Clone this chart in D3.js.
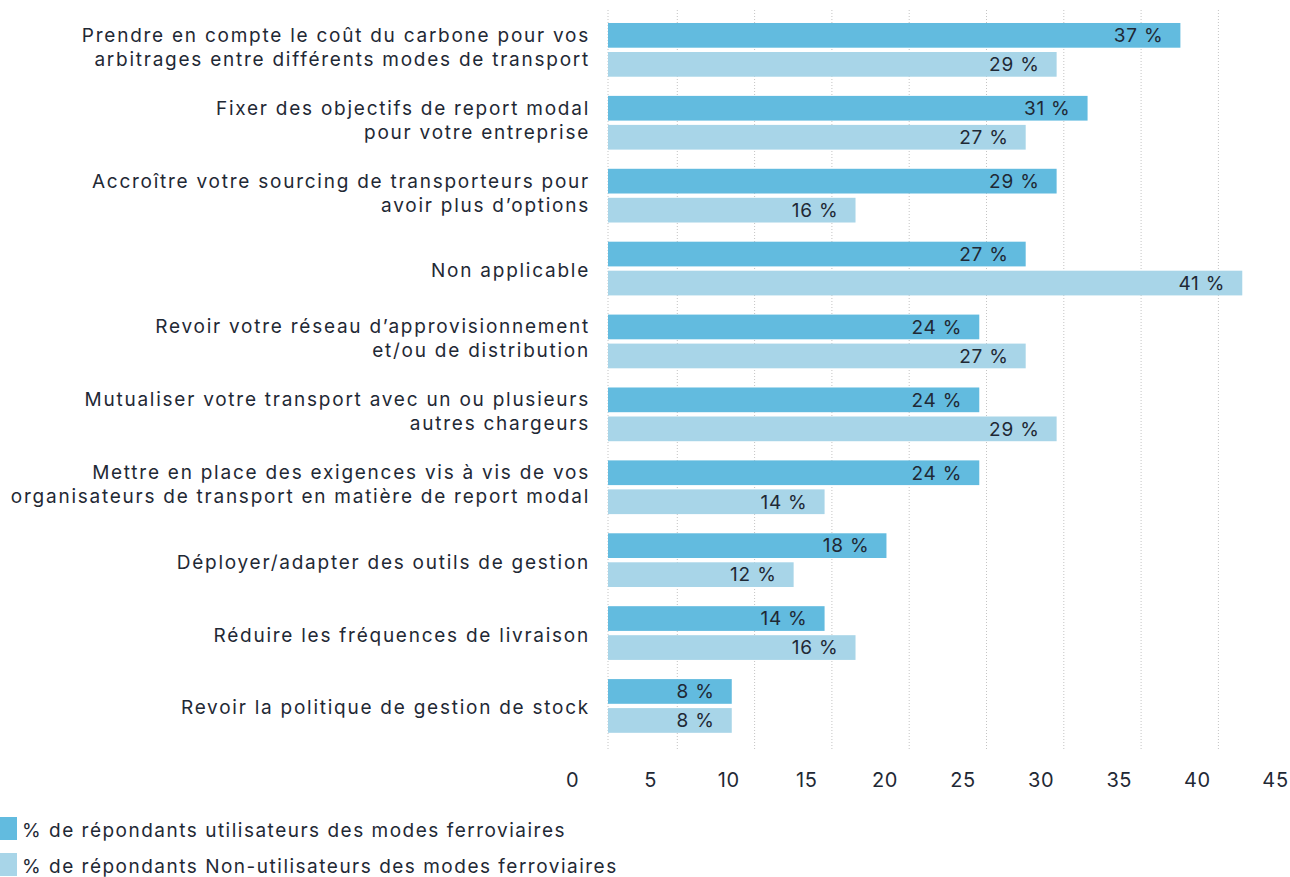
<!DOCTYPE html>
<html>
<head>
<meta charset="utf-8">
<script src="https://cdn.jsdelivr.net/npm/d3@7"></script>
<style>
  html, body { margin: 0; padding: 0; background: #fff; }
  svg text { font-family: Inter, sans-serif; fill: #1f2935; }
</style>
</head>
<body>
<div id="chart"></div>
<script>
// categories (each label split on its lines)
var categories = [
  ["Prendre en compte le coût du carbone pour vos", "arbitrages entre différents modes de transport"],
  ["Fixer des objectifs de report modal", "pour votre entreprise"],
  ["Accroître votre sourcing de transporteurs pour", "avoir plus d’options"],
  ["Non applicable"],
  ["Revoir votre réseau d’approvisionnement", "et/ou de distribution"],
  ["Mutualiser votre transport avec un ou plusieurs", "autres chargeurs"],
  ["Mettre en place des exigences vis à vis de vos", "organisateurs de transport en matière de report modal"],
  ["Déployer/adapter des outils de gestion"],
  ["Réduire les fréquences de livraison"],
  ["Revoir la politique de gestion de stock"]
];
var users    = [37, 31, 29, 27, 24, 24, 24, 18, 14, 8];
var nonUsers = [29, 27, 16, 41, 27, 29, 14, 12, 16, 8];
var seriesNames = [
  "% de répondants utilisateurs des modes ferroviaires",
  "% de répondants Non-utilisateurs des modes ferroviaires"
];
var tickValues = [0, 5, 10, 15, 20, 25, 30, 35, 40, 45];
var gridValues = [5, 10, 15, 20, 25, 30, 35, 40];
var colors = ["#62bbdf", "#a8d5e8"];

var width = 1290, height = 877;

var svg = d3.select("#chart")
  .append("svg")
    .attr("width", width)
    .attr("height", height);

// bar scale
var x = d3.scaleLinear().domain([0, 45]).range([608, 608 + 45 * 15.47]);
// grid is drawn a bit offset from the bars in the original
var xGrid = d3.scaleLinear().domain([0, 45]).range([600, 600 + 45 * 15.46]);
// tick labels sit on their own scale
var xTick = d3.scaleLinear().domain([0, 45]).range([572, 1275]);

var idx = d3.range(categories.length);
var y = d3.scaleBand()
  .domain(idx)
  .range([13.4, 13.4 + 10 * 72.9])
  .paddingInner(0.263)
  .paddingOuter(0.1315);

var ySub = d3.scaleBand()
  .domain([0, 1])
  .range([0, y.bandwidth()])
  .paddingInner(0.148);

// gridlines
svg.append("g")
  .selectAll("line")
  .data(gridValues)
  .enter()
  .append("line")
    .attr("x1", function(d){ return xGrid(d) })
    .attr("x2", function(d){ return xGrid(d) })
    .attr("y1", 10)
    .attr("y2", 749)
    .style("stroke", "#c4c4c4")
    .style("stroke-width", 1)
    .style("stroke-dasharray", "1,2");

// zero line
svg.append("line")
  .attr("x1", x(0)).attr("x2", x(0))
  .attr("y1", 10).attr("y2", 749)
  .style("stroke", "#c4c4c4")
  .style("stroke-width", 1)
  .style("stroke-dasharray", "1,2");

// bars
var rows = idx.map(function(i){ return [users[i], nonUsers[i]] });

var groups = svg.append("g")
  .selectAll("g")
  .data(rows)
  .enter()
  .append("g")
    .attr("transform", function(d, i){ return "translate(0," + y(i) + ")" });

groups.selectAll("rect")
  .data(function(d){ return d })
  .enter()
  .append("rect")
    .attr("x", x(0))
    .attr("y", function(d, j){ return ySub(j) })
    .attr("width", function(d){ return x(d) - x(0) })
    .attr("height", ySub.bandwidth())
    .style("fill", function(d, j){ return colors[j] });

groups.selectAll("text.val")
  .data(function(d){ return d })
  .enter()
  .append("text")
    .attr("class", "val")
    .attr("x", function(d){ return x(d) - 17 })
    .attr("y", function(d, j){ return ySub(j) + ySub.bandwidth() / 2 })
    .attr("dy", "0.36em")
    .style("text-anchor", "end")
    .style("font-size", "19px")
    .style("letter-spacing", "0.8px")
    .text(function(d){ return d + " %" });

// category labels
var labels = svg.append("g")
  .selectAll("text")
  .data(categories)
  .enter()
  .append("text")
    .attr("x", 590)
    .attr("y", function(d, i){ return y(i) + y.bandwidth() / 2 })
    .style("text-anchor", "end")
    .style("font-size", "19px")
    .style("letter-spacing", "1.75px");

labels.selectAll("tspan")
  .data(function(d){ return d.map(function(t, k){ return {t: t, k: k, n: d.length} }) })
  .enter()
  .append("tspan")
    .attr("x", 590)
    .attr("dy", function(d){
      return d.k == 0 ? (8.5 - (d.n - 1) * 16.5) + "px" : "24px";
    })
    .text(function(d){ return d.t });

// x axis labels only
var axis = svg.append("g")
  .attr("transform", "translate(0,780)")
  .call(d3.axisBottom(xTick).tickValues(tickValues).tickSize(0).tickPadding(0));
axis.select(".domain").remove();
axis.selectAll("text")
  .attr("dy", "0.36em")
  .attr("y", 0)
  .style("font-family", "Inter, sans-serif")
  .style("font-size", "20px")
  .style("letter-spacing", "0.6px")
  .style("fill", "#1f2935");

// legend
var legend = svg.append("g")
  .selectAll("g")
  .data(seriesNames)
  .enter()
  .append("g")
    .attr("transform", function(d, i){ return "translate(0," + (817 + i * 36) + ")" });

legend.append("rect")
  .attr("width", 17)
  .attr("height", 23)
  .style("fill", function(d, i){ return colors[i] });

legend.append("text")
  .attr("x", 22)
  .attr("y", 13)
  .attr("dy", "0.36em")
  .style("font-size", "19px")
  .style("letter-spacing", "1.5px")
  .text(function(d){ return d });
</script>
</body>
</html>
